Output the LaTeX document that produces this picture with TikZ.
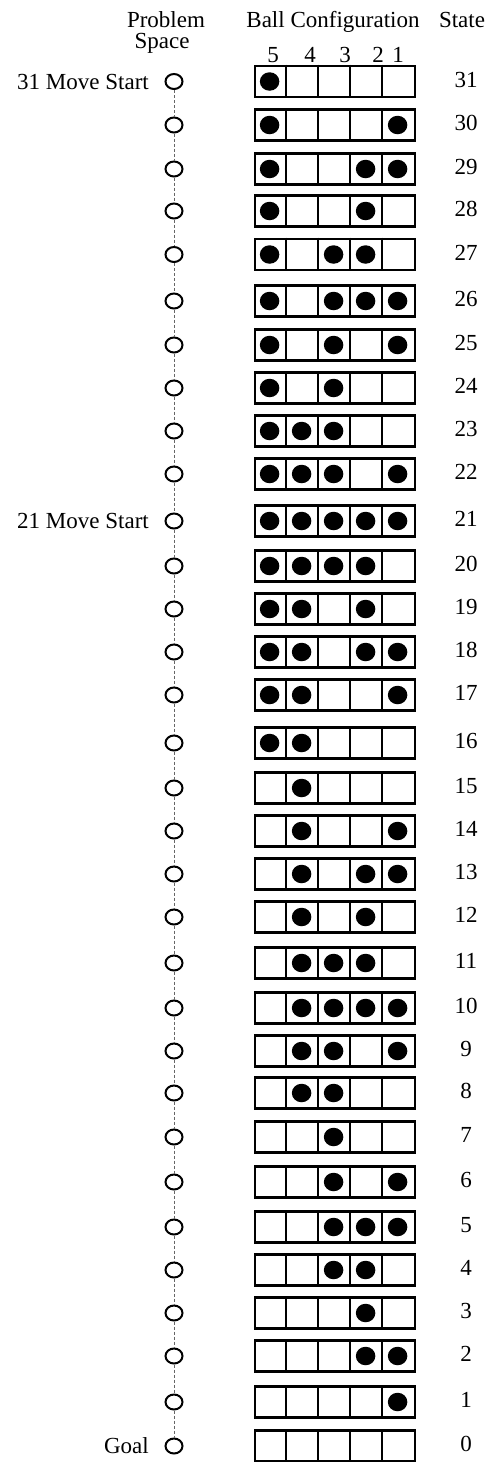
\documentclass[tikz,border=0pt]{standalone}
\usepackage{fontspec}
\setmainfont{Liberation Serif}
\usetikzlibrary{shapes.geometric}
\begin{document}
\begin{tikzpicture}[x=1pt,y=-1pt,
  txt/.style={font=\fontsize{23}{27}\selectfont, inner sep=0pt},
  pcircle/.style={draw, line width=2pt, ellipse, minimum width=17pt, minimum height=15pt, inner sep=0pt},
  cfgbox/.style={draw, line width=2.8pt, minimum width=160pt, minimum height=31pt, inner sep=0pt},
  cellline/.style={line width=2.2pt},
  ball/.style={fill, ellipse, minimum width=19.5pt, minimum height=18.5pt, inner sep=0pt},
  link/.style={draw=black!60, line width=0.9pt, dash pattern=on 3pt off 2pt}]
\useasboundingbox (0,0) rectangle (496,1462);
% headers
\node[txt, anchor=base] (hprob) at (166,27) {Problem};
\node[txt, anchor=base] (hspace) at (162,48) {Space};
\node[txt, anchor=base] (hball) at (333,27) {Ball Configuration};
\node[txt, anchor=base] (hstate) at (462,27) {State};
\foreach \d/\x in {5/273,4/310,3/345,2/378,1/398}
  \node[txt, anchor=base] (hd\d) at (\x,62) {\d};
% rows
\foreach \n/\y/\p in {
  31/81.5/{1,0,0,0,0}, 30/125/{1,0,0,0,1}, 29/169/{1,0,0,1,1}, 28/211/{1,0,0,1,0},
  27/254.5/{1,0,1,1,0}, 26/301/{1,0,1,1,1}, 25/345/{1,0,1,0,1}, 24/388/{1,0,1,0,0},
  23/431/{1,1,1,0,0}, 22/474/{1,1,1,0,1}, 21/521/{1,1,1,1,1}, 20/566/{1,1,1,1,0},
  19/609/{1,1,0,1,0}, 18/652/{1,1,0,1,1}, 17/695/{1,1,0,0,1}, 16/743/{1,1,0,0,0},
  15/788/{0,1,0,0,0}, 14/831/{0,1,0,0,1}, 13/874/{0,1,0,1,1}, 12/917/{0,1,0,1,0},
  11/963/{0,1,1,1,0}, 10/1008/{0,1,1,1,1}, 9/1051/{0,1,1,0,1}, 8/1093/{0,1,1,0,0},
  7/1137/{0,0,1,0,0}, 6/1182/{0,0,1,0,1}, 5/1227/{0,0,1,1,1}, 4/1270/{0,0,1,1,0},
  3/1313/{0,0,0,1,0}, 2/1356/{0,0,0,1,1}, 1/1402/{0,0,0,0,1}, 0/1446/{0,0,0,0,0}}{
  \node[cfgbox] (b\n) at (335,\y) {};
  \foreach \k in {1,...,4}
    \draw[cellline] ([xshift={32*\k*1pt}]b\n.north west) -- ([xshift={32*\k*1pt}]b\n.south west);
  \foreach \b [count=\k] in \p {
    \ifnum\b=1 \node[ball] (ball\n-\k) at ([xshift={(32*\k-16)*1pt}]b\n.west) {};\fi
  }
  \node[pcircle] (c\n) at (174,\y) {};
  \node[txt] (s\n) at (466,{\y-2}) {\n};
}
% connectors
\foreach \n [evaluate=\n as \m using int(\n-1)] in {31,...,1}
  \draw[link] (c\n) -- (c\m);
% labels
\node[txt, anchor=east] (l31) at (149,81.5) {31 Move Start};
\node[txt, anchor=east] (l21) at (149,521) {21 Move Start};
\node[txt, anchor=east] (lgoal) at (149,1446) {Goal};
\end{tikzpicture}
\end{document}
